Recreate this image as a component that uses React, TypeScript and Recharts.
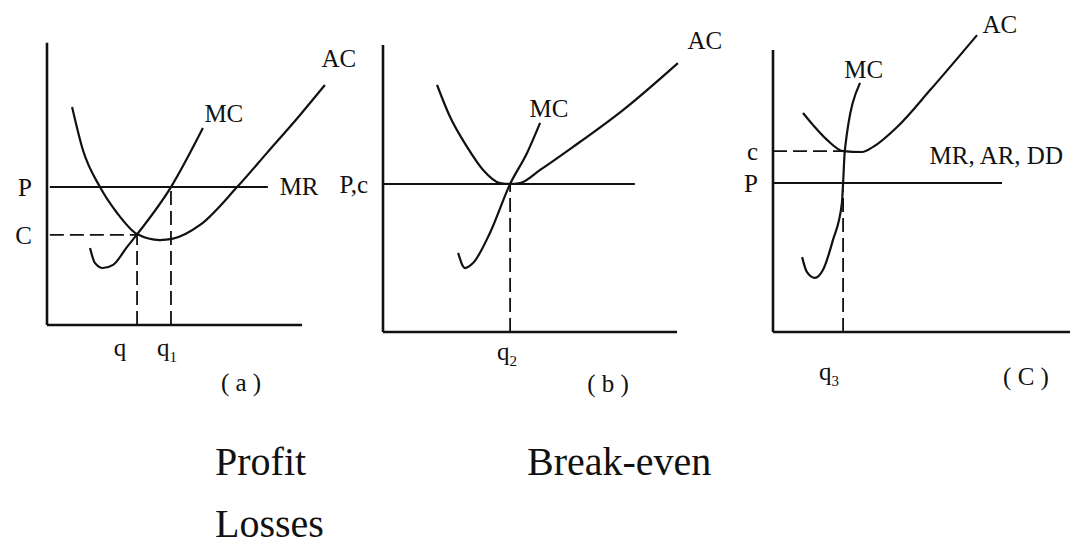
import React from 'react';
import { LineChart, Line, XAxis, YAxis, ReferenceLine, ReferenceDot } from 'recharts';

type Pt = { q: number; c: number };
const pts = (arr: number[][]): Pt[] => arr.map(([q, c]) => ({ q, c }));

// ---------- Panel (a): profit ----------
const aAC = pts([[8.8, 76.5], [12.6, 61.4], [18.6, 48.4], [24.6, 39.3], [31.6, 31.9], [39.6, 29.8], [43.9, 30.2], [53.7, 35.1], [66.7, 48.4], [77.2, 60.4], [88.8, 73.7], [97.5, 84.2]]);
const aMC = pts([[15.1, 27.0], [16.8, 21.8], [19.6, 20.0], [23.2, 21.1], [28.1, 27.4], [31.6, 31.8], [43.5, 48.4], [54.7, 69.1]]);
const aPrice = 48.4;
const aCost = 31.6;
const aQ = 31.6;
const aQ1 = 43.5;
const aMREnd = 77.5;
const aXTicks = [aQ, aQ1];
const aXTickLabels = ['q', 'q1'];
const aYTicks = [aCost, aPrice];
const aYTickLabels = ['C', 'P'];

// ---------- Panel (b): break-even ----------
const bAC = pts([[18.2, 84.6], [22.6, 73.6], [28.3, 63.4], [33.7, 55.5], [39.4, 51.0], [42.8, 50.7], [46.1, 51.0], [52.9, 55.5], [64.0, 63.4], [80.8, 76.0], [99.3, 92.1]]);
const bMC = pts([[25.3, 27.1], [27.6, 21.9], [30.3, 23.6], [36.0, 33.9], [42.8, 50.7], [48.5, 61.3], [52.9, 71.6]]);
const bPrice = 50.7;
const bQ2 = 42.8;
const bLineEnd = 84.8;
const bXTicks = [bQ2];
const bXTickLabels = ['q2'];
const bYTicks = [bPrice];
const bYTickLabels = ['P,c'];

// ---------- Panel (c): losses ----------
const cAC = pts([[10.1, 72.5], [13.5, 68.5], [18.2, 63.6], [23.6, 59.9], [30.0, 59.6], [33.7, 61.3], [41.8, 67.9], [52.9, 80.1], [68.7, 98.3]]);
const cMC = pts([[9.8, 24.8], [11.4, 19.9], [14.1, 17.9], [16.8, 20.5], [20.2, 30.5], [23.2, 42.7], [23.6, 49.3], [24.2, 60.3], [29.3, 82.5]]);
const cPrice = 49.3;
const cCost = 59.9;
const cQ3 = 23.6;
const cLineEnd = 77.1;
const cXTicks = [cQ3];
const cXTickLabels = ['q3'];
const cYTicks = [cPrice, cCost];
const cYTickLabels = ['P', 'c'];

const FONT = '"Liberation Serif", "Times New Roman", serif';
const INK = '#111';
const FS = 25;

type LabelSpec = { text: string; q: number; c: number };
type Seg = { x1: number; y1: number; x2: number; y2: number; dashed?: boolean };

type PanelCfg = {
  box: { left: number; top: number; w: number; h: number };
  plot: { left: number; top: number; right: number; bottom: number };
  ac: Pt[];
  mc: Pt[];
  xTicks: number[];
  xTickLabels: string[];
  xTickDx: number[];
  xTickBaseline: number;
  yTicks: number[];
  yTickLabels: string[];
  segs: Seg[];
  labels: LabelSpec[];
};

function SubText({ label, x, y, anchor }: { label: string; x: number; y: number; anchor: string }) {
  const m = /^([a-zA-Z]+)(\d)$/.exec(label);
  return (
    <text x={x} y={y} textAnchor={anchor as any} fontFamily={FONT} fontSize={FS} fill={INK}>
      {m ? (
        <>
          <tspan>{m[1]}</tspan>
          <tspan dy={6} fontSize={15}>{m[2]}</tspan>
        </>
      ) : (
        label
      )}
    </text>
  );
}

function Panel({ cfg }: { cfg: PanelCfg }) {
  const { box, plot } = cfg;
  const xAxisH = 40;
  const margin = {
    top: plot.top - box.top,
    right: box.left + box.w - plot.right,
    bottom: box.top + box.h - plot.bottom - xAxisH,
    left: 0,
  };
  const yAxisW = plot.left - box.left;
  const plotBottomLocal = plot.bottom - box.top;
  return (
    <div style={{ position: 'absolute', left: box.left, top: box.top, width: box.w, height: box.h }}>
      <LineChart width={box.w} height={box.h} margin={margin}>
        <XAxis
          type="number"
          dataKey="q"
          domain={[0, 100]}
          allowDataOverflow
          ticks={cfg.xTicks}
          interval={0}
          axisLine={false}
          tickLine={false}
          tickSize={0}
          tickMargin={0}
          height={xAxisH}
          tick={(p: any) => {
            const i = cfg.xTicks.indexOf(p.payload.value);
            return (
              <SubText
                key={'xt' + i}
                label={cfg.xTickLabels[i] ?? ''}
                x={p.x + (cfg.xTickDx[i] ?? 0)}
                y={plotBottomLocal + cfg.xTickBaseline}
                anchor="middle"
              />
            );
          }}
        />
        <YAxis
          type="number"
          dataKey="c"
          domain={[0, 100]}
          allowDataOverflow
          ticks={cfg.yTicks}
          interval={0}
          axisLine={false}
          tickLine={false}
          tickSize={0}
          tickMargin={0}
          width={yAxisW}
          tick={(p: any) => {
            const i = cfg.yTicks.indexOf(p.payload.value);
            return (
              <SubText key={'yt' + i} label={cfg.yTickLabels[i] ?? ''} x={yAxisW - 15} y={p.y + 9} anchor="end" />
            );
          }}
        />
        {cfg.segs.map((s, i) => (
          <ReferenceLine
            key={'seg' + i}
            segment={[{ x: s.x1, y: s.y1 }, { x: s.x2, y: s.y2 }]}
            stroke={INK}
            strokeWidth={s.dashed ? 1.8 : s.y1 === 0 && s.y2 === 0 ? 2.6 : s.x1 === 0 && s.x2 === 0 ? 2.6 : 2}
            strokeDasharray={s.dashed ? '14 6' : undefined}
            ifOverflow="visible"
          />
        ))}
        <Line data={cfg.ac} dataKey="c" type="monotone" stroke={INK} strokeWidth={2.2} dot={false} isAnimationActive={false} />
        <Line data={cfg.mc} dataKey="c" type="monotone" stroke={INK} strokeWidth={2.2} dot={false} isAnimationActive={false} />
        {cfg.labels.map((l, i) => (
          <ReferenceDot
            key={'lb' + i}
            x={l.q}
            y={l.c}
            r={0.5}
            fill="none"
            stroke="none"
            ifOverflow="visible"
            label={(p: any) => (
              <text x={p.viewBox.x} y={p.viewBox.y} fontFamily={FONT} fontSize={FS} fill={INK}>
                {l.text}
              </text>
            )}
          />
        ))}
      </LineChart>
    </div>
  );
}

const panelA: PanelCfg = {
  box: { left: 0, top: 0, w: 365, h: 400 },
  plot: { left: 47, top: 40, right: 332, bottom: 325 },
  ac: aAC,
  mc: aMC,
  xTicks: aXTicks,
  xTickLabels: aXTickLabels,
  xTickDx: [-17, -4],
  xTickBaseline: 31,
  yTicks: aYTicks,
  yTickLabels: aYTickLabels,
  segs: [
    { x1: 0, y1: 0, x2: 0, y2: 99 },
    { x1: 0, y1: 0, x2: 89.5, y2: 0 },
    { x1: 1, y1: aPrice, x2: aMREnd, y2: aPrice },
    { x1: 1, y1: aCost, x2: aQ, y2: aCost, dashed: true },
    { x1: aQ, y1: 0, x2: aQ, y2: aCost, dashed: true },
    { x1: aQ1, y1: 0, x2: aQ1, y2: aPrice, dashed: true },
  ],
  labels: [
    { text: 'MC', q: 55.4, c: 71.2 },
    { text: 'MR', q: 81.8, c: 45.6 },
    { text: 'AC', q: 96.5, c: 90.2 },
  ],
};

const panelB: PanelCfg = {
  box: { left: 330, top: 0, w: 410, h: 400 },
  plot: { left: 383, top: 40, right: 680, bottom: 332 },
  ac: bAC,
  mc: bMC,
  xTicks: bXTicks,
  xTickLabels: bXTickLabels,
  xTickDx: [-3],
  xTickBaseline: 28,
  yTicks: bYTicks,
  yTickLabels: bYTickLabels,
  segs: [
    { x1: 0, y1: 0, x2: 0, y2: 98.3 },
    { x1: 0, y1: 0, x2: 99, y2: 0 },
    { x1: 0, y1: bPrice, x2: bLineEnd, y2: bPrice },
    { x1: bQ2, y1: 0, x2: bQ2, y2: bPrice, dashed: true },
  ],
  labels: [
    { text: 'MC', q: 49.5, c: 73.6 },
    { text: 'AC', q: 102.7, c: 96.6 },
  ],
};

const panelC: PanelCfg = {
  box: { left: 700, top: 0, w: 370, h: 400 },
  plot: { left: 773, top: 30, right: 1070, bottom: 332 },
  ac: cAC,
  mc: cMC,
  xTicks: cXTicks,
  xTickLabels: cXTickLabels,
  xTickDx: [-14],
  xTickBaseline: 48,
  yTicks: cYTicks,
  yTickLabels: cYTickLabels,
  segs: [
    { x1: 0, y1: 0, x2: 0, y2: 93.4 },
    { x1: 0, y1: 0, x2: 100, y2: 0 },
    { x1: 0, y1: cPrice, x2: cLineEnd, y2: cPrice },
    { x1: 0, y1: cCost, x2: cQ3, y2: cCost, dashed: true },
    { x1: cQ3, y1: 0, x2: cQ3, y2: 47, dashed: true },
  ],
  labels: [
    { text: 'MC', q: 24.2, c: 84.1 },
    { text: 'AC', q: 70.7, c: 99.0 },
    { text: 'MR, AR, DD', q: 52.9, c: 55.3 },
  ],
};

const panelCaptions = [
  { text: '( a )', x: 241, y: 391 },
  { text: '( b )', x: 608, y: 392 },
  { text: '( C )', x: 1026, y: 385 },
];
const bottomCaptions = [
  { text: 'Profit', x: 215, y: 475 },
  { text: 'Break-even', x: 527, y: 475 },
  { text: 'Losses', x: 215, y: 537 },
];

export default function App() {
  return (
    <div style={{ position: 'absolute', left: 0, top: 0, width: 1070, height: 547, background: '#fff', overflow: 'hidden' }}>
      <Panel cfg={panelA} />
      <Panel cfg={panelB} />
      <Panel cfg={panelC} />
      <svg width={1070} height={547} style={{ position: 'absolute', left: 0, top: 0, pointerEvents: 'none' }}>
        {panelCaptions.map((c) => (
          <text key={c.text} x={c.x} y={c.y} textAnchor="middle" fontFamily={FONT} fontSize={FS} fill={INK}>
            {c.text}
          </text>
        ))}
        {bottomCaptions.map((c) => (
          <text key={c.text} x={c.x} y={c.y} fontFamily={FONT} fontSize={40} fill={INK}>
            {c.text}
          </text>
        ))}
      </svg>
    </div>
  );
}
